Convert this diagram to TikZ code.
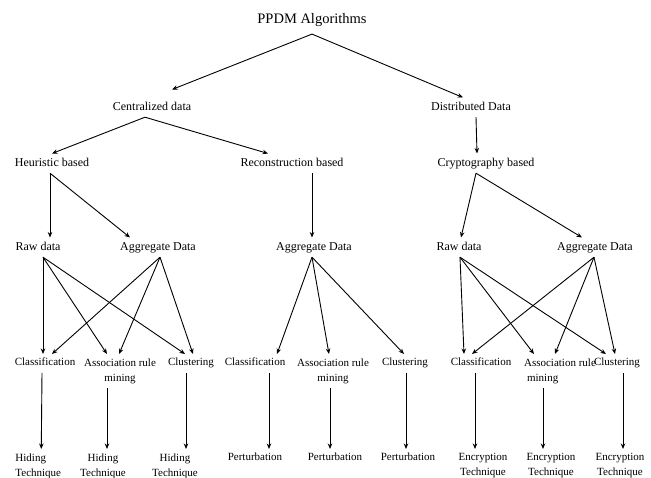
\documentclass[tikz,border=0pt]{standalone}
\usepackage{fontspec}
\setmainfont{Liberation Serif}
\usetikzlibrary{arrows.meta}
\begin{document}
\begin{tikzpicture}[>={Stealth[length=5.5pt,width=4.5pt]}, x=1pt, y=-1pt, line width=0.9pt,
    top/.style={font=\fontsize{14.5}{17}\selectfont, anchor=north, inner sep=4pt},
    big/.style={font=\fontsize{12}{14}\selectfont, anchor=north, inner sep=4pt, text height=8.2pt, text depth=2.6pt},
    small/.style={font=\fontsize{11}{15}\selectfont, anchor=north, inner sep=4pt, text height=7.5pt, text depth=2.4pt},
    twoline/.style={font=\fontsize{11}{15}\selectfont, anchor=north, inner sep=4pt, align=center}]
    \useasboundingbox (0,0) rectangle (651,478);
    \node[top] (alg) at (312,9) {PPDM Algorithms};
    \node[big] (cen) at (152,97.5) {Centralized data};
    \node[big] (dis) at (471,97.5) {Distributed Data};
    \node[big] (heu) at (52,153.5) {Heuristic based};
    \node[big] (rec) at (292,153.5) {Reconstruction based};
    \node[big] (cry) at (486,153.5) {Cryptography based};
    \node[big] (raw1) at (38,237.5) {Raw data};
    \node[big] (agg1) at (158,237.5) {Aggregate Data};
    \node[big] (agg2) at (314,237.5) {Aggregate Data};
    \node[big] (raw3) at (459,237.5) {Raw data};
    \node[big] (agg3) at (595,237.5) {Aggregate Data};
    \node[small] (cls1) at (45,354) {Classification};
    \node[twoline] (asc1) at (120,354) {Association rule\\mining};
    \node[small] (clu1) at (191,354) {Clustering};
    \node[small] (cls2) at (255,354) {Classification};
    \node[twoline] (asc2) at (333,354) {Association rule\\mining};
    \node[small] (clu2) at (405,354) {Clustering};
    \node[small] (cls3) at (481,354) {Classification};
    \node[twoline, align=left] (asc3) at (560,354) {Association rule\\\hspace*{3pt}mining};
    \node[small] (clu3) at (617,354) {Clustering};
    \node[twoline, align=left, anchor=north west] (hid1) at (11,449) {Hiding\\Technique};
    \node[twoline] (hid2) at (103,449) {Hiding\\Technique};
    \node[twoline] (hid3) at (175,449) {Hiding\\Technique};
    \node[small] (per1) at (255,449) {Perturbation};
    \node[small] (per2) at (335,449) {Perturbation};
    \node[small] (per3) at (408,449) {Perturbation};
    \node[twoline] (enc1) at (483,449) {Encryption\\Technique};
    \node[twoline] (enc2) at (551,449) {Encryption\\Technique};
    \node[twoline] (enc3) at (620,449) {Encryption\\Technique};
    \draw[->] ([yshift=-3]alg.south) -- ([xshift=20,yshift=8]cen.north);
    \draw[->] ([yshift=-3]alg.south) -- ([xshift=-8]dis.north);
    \draw[->] ([xshift=-7]cen.south) -- (heu.north);
    \draw[->] ([xshift=-7]cen.south) -- ([xshift=-24]rec.north);
    \draw[->] ([xshift=5]dis.south) -- ([xshift=-9]cry.north);
    \draw[->] ([xshift=-2]heu.south) -- ([xshift=12]raw1.north);
    \draw[->] ([xshift=-2]heu.south) -- ([xshift=-28]agg1.north);
    \draw[->] ([xshift=20]rec.south) -- ([xshift=-2]agg2.north);
    \draw[->] ([xshift=-10]cry.south) -- ([xshift=2]raw3.north);
    \draw[->] ([xshift=-10]cry.south) -- ([xshift=-13]agg3.north);
    \draw[->] ([xshift=5]raw1.south) -- ([xshift=-2]cls1.north);
    \draw[->] ([xshift=5]raw1.south) -- ([xshift=-13]asc1.north);
    \draw[->] ([xshift=5]raw1.south) -- ([xshift=-6]clu1.north);
    \draw[->] ([xshift=2]agg1.south) -- ([xshift=7]cls1.north);
    \draw[->] ([xshift=2]agg1.south) -- ([xshift=-1]asc1.north);
    \draw[->] ([xshift=2]agg1.south) -- ([xshift=2]clu1.north);
    \draw[->] ([xshift=-2]agg2.south) -- ([xshift=22]cls2.north);
    \draw[->] ([xshift=-2]agg2.south) -- ([xshift=-4]asc2.north);
    \draw[->] ([xshift=-2]agg2.south) -- ([xshift=-1]clu2.north);
    \draw[->] ([xshift=1]raw3.south) -- ([xshift=-17]cls3.north);
    \draw[->] ([xshift=1]raw3.south) -- ([xshift=-26]asc3.north);
    \draw[->] ([xshift=1]raw3.south) -- ([xshift=-11]clu3.north);
    \draw[->] ([xshift=-1]agg3.south) -- ([xshift=-9]cls3.north);
    \draw[->] ([xshift=-1]agg3.south) -- ([xshift=-5]asc3.north);
    \draw[->] ([xshift=-1]agg3.south) -- ([xshift=-2]clu3.north);
    \draw[->] ([xshift=-3]cls1.south) -- ([xshift=3]hid1.north);
    \draw[->] ([xshift=-13]asc1.south) -- ([xshift=4]hid2.north);
    \draw[->] ([xshift=-5]clu1.south) -- ([xshift=11]hid3.north);
    \draw[->] ([xshift=14]cls2.south) -- ([xshift=14]per1.north);
    \draw[->] ([xshift=-3]asc2.south) -- ([xshift=-5]per2.north);
    \draw[->] ([xshift=1]clu2.south) -- ([xshift=-2]per3.north);
    \draw[->] ([xshift=-6]cls3.south) -- ([xshift=-8]enc1.north);
    \draw[->] ([xshift=-17]asc3.south) -- ([xshift=-8]enc2.north);
    \draw[->] ([xshift=6]clu3.south) -- ([xshift=3]enc3.north);
\end{tikzpicture}
\end{document}
